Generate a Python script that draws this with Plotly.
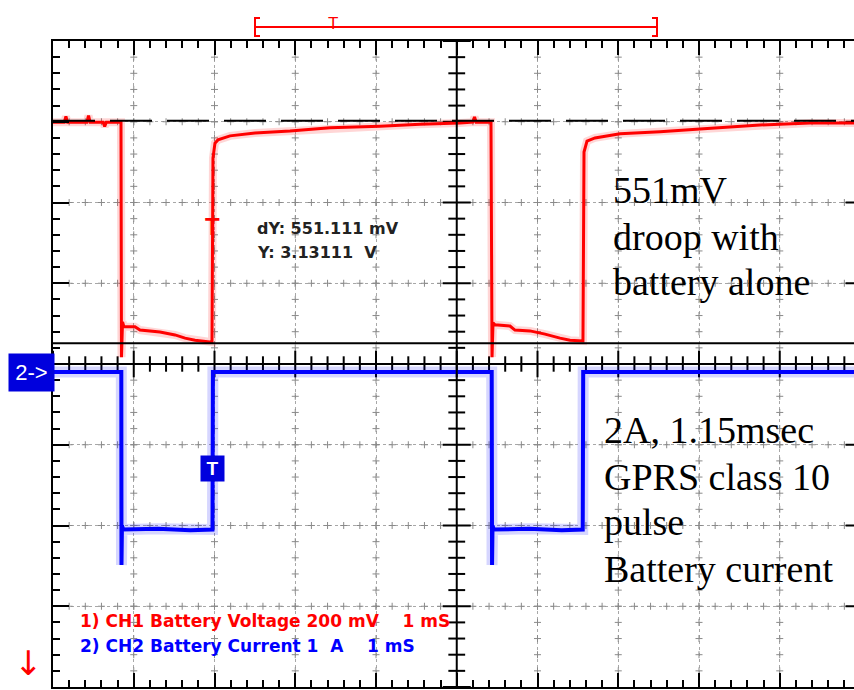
import numpy as np
import plotly.graph_objects as go

# ---------------- data ----------------
# CH1: battery voltage (V), 200 mV/div ; time in ms, 1 ms/div
ch1_t = [0.00, 0.14, 0.16, 0.18, 0.42, 0.44, 0.46, 0.62, 0.64, 0.66, 0.842,
         0.848, 0.861, 0.879, 1.015, 1.077, 1.325, 1.511, 1.635, 1.759, 1.969,
         1.981, 2.006, 2.043, 2.192, 2.502, 2.935, 3.430, 4.050, 4.545, 5.040,
         5.20, 5.22, 5.24, 5.424,
         5.437, 5.449, 5.474, 5.659, 5.721, 5.907, 6.093, 6.279, 6.402, 6.563,
         6.576, 6.613, 6.712, 7.022, 7.517, 8.012, 8.755, 9.375, 9.920]
ch1_v = [3.679, 3.679, 3.693, 3.679, 3.679, 3.695, 3.679, 3.679, 3.668, 3.679, 3.679,
         3.097, 3.184, 3.172, 3.172, 3.164, 3.159, 3.152, 3.144, 3.139, 3.134,
         3.590, 3.627, 3.635, 3.645, 3.652, 3.657, 3.665, 3.669, 3.674, 3.677,
         3.679, 3.692, 3.679, 3.679,
         3.097, 3.182, 3.177, 3.174, 3.164, 3.162, 3.154, 3.144, 3.139, 3.137,
         3.605, 3.632, 3.640, 3.650, 3.655, 3.662, 3.672, 3.677, 3.677]

# CH2: battery current (A), 1 A/div (probe polarity: discharge shown negative)
ch2_t = [0.00, 0.846, 0.848, 0.854, 0.870, 1.30, 1.70, 1.975, 1.980, 3.50,
         5.433, 5.437, 5.443, 5.459, 5.90, 6.30, 6.560, 6.566, 9.920]
ch2_i = [0.00, 0.00, -2.39, -1.90, -1.95, -1.94, -1.96, -1.95, 0.00, 0.00,
         0.00, -2.39, -1.90, -1.95, -1.94, -1.96, -1.95, 0.00, 0.00]

# cursor readout
cursor_y = 3.13111          # V
cursor_dy = 0.551111        # V
trigger_t = 1.975           # ms
trigger_v = 3.42            # V
trigger_i = -1.2            # A

ch1_label = "1) CH1 Battery Voltage 200 mV" + "\u00a0" * 4 + "1 mS"
ch2_label = "2) CH2 Battery Current 1" + "\u00a0" * 2 + "A" + "\u00a0" * 4 + "1 mS"
note_top = ["551mV", "droop with", "battery alone"]
note_bottom = ["2A, 1.15msec", "GPRS class 10", "pulse", "Battery current"]

# ---------------- screen geometry ----------------
W, H = 854, 690
ML, MT, MB, MR = 53, 41, 3, 0
PW, PH = W - ML - MR, H - MT - MB
DIV_PX = PH / 8.0
T_DIV, V_DIV, I_DIV = 1.0, 0.2, 1.0
V_TOP = 3.88
I_TOP = 4.10
t_max = PW / DIV_PX * T_DIV
v_rng = [V_TOP - 8 * V_DIV, V_TOP]
i_rng = [I_TOP - 8 * I_DIV, I_TOP]
t_center = 5 * T_DIV
v_center = V_TOP - 4 * V_DIV


def fx(px):
    return (px - ML) / PW


def fy(py):
    return (H - MB - py) / PH


fig = go.Figure()

# grid "+" marks along dotted grid lines
gx, gy = [], []
minor_t = np.arange(1, int(t_max / (T_DIV / 5)) + 1) * (T_DIV / 5)
minor_v = v_rng[0] + np.arange(1, 40) * (V_DIV / 5)
for k in range(1, 10):
    if k == 5:
        continue
    gx += [k * T_DIV] * len(minor_v)
    gy += list(minor_v)
for k in range(1, 8):
    if k == 4:
        continue
    gx += list(minor_t)
    gy += [v_rng[0] + k * V_DIV] * len(minor_t)
fig.add_trace(go.Scatter(x=gx, y=gy, mode="markers", hoverinfo="skip",
                         marker=dict(symbol="cross-thin", size=5,
                                     line=dict(width=1, color="#8a8a8a"))))

# centre-axis ticks
tt = np.arange(0, int(t_max / (T_DIV / 5)) + 1) * (T_DIV / 5)
is_major_t = np.isclose(np.mod(tt + 1e-9, T_DIV), 0, atol=1e-6)
fig.add_trace(go.Scatter(x=tt[~is_major_t], y=[v_center] * int((~is_major_t).sum()),
                         mode="markers", hoverinfo="skip",
                         marker=dict(symbol="line-ns", size=11, line=dict(width=2, color="black"))))
fig.add_trace(go.Scatter(x=tt[is_major_t], y=[v_center] * int(is_major_t.sum()),
                         mode="markers", hoverinfo="skip",
                         marker=dict(symbol="line-ns", size=19, line=dict(width=2, color="black"))))
vv = v_rng[0] + np.arange(0, 41) * (V_DIV / 5)
kk = np.arange(0, 41)
fig.add_trace(go.Scatter(x=[t_center] * int((kk % 5 != 0).sum()), y=vv[kk % 5 != 0],
                         mode="markers", hoverinfo="skip",
                         marker=dict(symbol="line-ew", size=12, line=dict(width=2, color="black"))))
fig.add_trace(go.Scatter(x=[t_center] * int((kk % 5 == 0).sum()), y=vv[kk % 5 == 0],
                         mode="markers", hoverinfo="skip",
                         marker=dict(symbol="line-ew", size=20, line=dict(width=2, color="black"))))
# right-border major tick stubs (border itself is just off screen)
fig.add_trace(go.Scatter(x=[t_max] * 7, y=v_rng[0] + np.arange(1, 8) * V_DIV,
                         mode="markers", hoverinfo="skip",
                         marker=dict(symbol="line-ew", size=12, line=dict(width=2, color="black"))))

# signal traces
fig.add_trace(go.Scatter(x=ch1_t, y=ch1_v, mode="lines", hoverinfo="skip",
                         line=dict(color="rgba(255,0,0,0.16)", width=8)))
fig.add_trace(go.Scatter(x=ch1_t, y=ch1_v, mode="lines", name="CH1",
                         line=dict(color="#ff0000", width=3)))
fig.add_trace(go.Scatter(x=ch2_t, y=ch2_i, mode="lines", yaxis="y2", hoverinfo="skip",
                         line=dict(color="rgba(0,0,255,0.16)", width=11)))
fig.add_trace(go.Scatter(x=ch2_t, y=ch2_i, mode="lines", yaxis="y2", name="CH2",
                         line=dict(color="#0000ff", width=4)))

shapes = [
    # cursors
    dict(type="line", xref="paper", yref="y", x0=0, x1=1,
         y0=cursor_y + cursor_dy, y1=cursor_y + cursor_dy,
         line=dict(color="black", width=2, dash="42px,15px")),
    dict(type="line", xref="paper", yref="y", x0=0, x1=1, y0=cursor_y, y1=cursor_y,
         line=dict(color="black", width=2)),
    # centre axes
    dict(type="line", xref="x", yref="paper", x0=t_center, x1=t_center, y0=0, y1=1,
         line=dict(color="black", width=2)),
    dict(type="line", xref="paper", yref="y", x0=0, x1=1, y0=v_center, y1=v_center,
         line=dict(color="black", width=2)),
    # record bar on top
    dict(type="line", xref="paper", yref="paper", x0=fx(255), x1=fx(657), y0=fy(27), y1=fy(27),
         line=dict(color="#ff0000", width=2)),
    dict(type="path", xref="paper", yref="paper",
         path=f"M {fx(260)},{fy(18)} L {fx(255)},{fy(18)} L {fx(255)},{fy(36)} L {fx(260)},{fy(36)}",
         line=dict(color="#ff0000", width=2)),
    dict(type="path", xref="paper", yref="paper",
         path=f"M {fx(652)},{fy(18)} L {fx(657)},{fy(18)} L {fx(657)},{fy(36)} L {fx(652)},{fy(36)}",
         line=dict(color="#ff0000", width=2)),
]

ann = []


def txt(text, px, py, size, color, family, xanchor="left", **kw):
    ann.append(dict(text=text, x=fx(px), y=fy(py), xref="paper", yref="paper",
                    xanchor=xanchor, yanchor="middle", showarrow=False,
                    font=dict(size=size, color=color, family=family), **kw))


txt("<b>dY: 551.111 mV</b>", 255, 228, 16, "#222222", "DejaVu Sans")
txt("<b>Y: 3.13111\u00a0\u00a0V</b>", 255, 252, 16, "#222222", "DejaVu Sans")
txt("<b>" + ch1_label + "</b>", 78, 621, 17, "#ff0000", "DejaVu Sans")
txt("<b>" + ch2_label + "</b>", 78, 646, 17, "#0000ff", "DejaVu Sans")
for line, py in zip(note_top, [190, 237, 282]):
    txt(line, 611, py, 38, "black", "Liberation Serif")
for line, py in zip(note_bottom, [430, 477, 522, 569]):
    txt(line, 602, py, 38, "black", "Liberation Serif")
txt("T", 333, 24, 17, "#ff0000", "Liberation Sans", xanchor="center")
txt("\u2193", 28, 663, 34, "#ff0000", "DejaVu Sans", xanchor="center")

# channel-2 ground marker
ann.append(dict(text="2->", x=fx(8), y=0, xref="paper", yref="y2", xanchor="left",
                yanchor="middle", showarrow=False, bgcolor="#0000dd", width=45, height=37,
                borderpad=0, font=dict(size=22, color="white", family="Liberation Sans")))
# trigger markers
ann.append(dict(text="<b>T</b>", x=trigger_t, y=trigger_v, xref="x", yref="y", xanchor="center",
                yanchor="middle", showarrow=False,
                font=dict(size=24, color="#ff0000", family="Liberation Sans")))
ann.append(dict(text="<b>T</b>", x=trigger_t, y=trigger_i, xref="x", yref="y2", xanchor="center",
                yanchor="middle", showarrow=False, bgcolor="#0000dd", width=23, height=25,
                borderpad=0, font=dict(size=19, color="white", family="Liberation Sans")))

axis_common = dict(showticklabels=False, zeroline=False, showline=True, linecolor="black",
                   linewidth=2, ticks="inside", tickcolor="black", tickwidth=2,
                   showgrid=True, gridcolor="#a8a8a8", griddash="dot", gridwidth=1)

fig.update_layout(
    width=W, height=H, margin=dict(l=ML, r=MR, t=MT, b=MB, pad=0),
    paper_bgcolor="white", plot_bgcolor="white", showlegend=False,
    xaxis=dict(range=[0, t_max], tick0=0, dtick=T_DIV, ticklen=14, mirror="ticks",
               minor=dict(dtick=T_DIV / 5, ticks="inside", ticklen=7, tickwidth=2,
                          tickcolor="black", showgrid=False),
               **axis_common),
    yaxis=dict(range=v_rng, tick0=v_rng[0], dtick=V_DIV, ticklen=16, mirror=False,
               minor=dict(dtick=V_DIV / 5, ticks="inside", ticklen=7, tickwidth=2,
                          tickcolor="black", showgrid=False),
               **axis_common),
    yaxis2=dict(range=i_rng, overlaying="y", visible=False),
    shapes=shapes, annotations=ann,
)

fig.write_html("out.html")
